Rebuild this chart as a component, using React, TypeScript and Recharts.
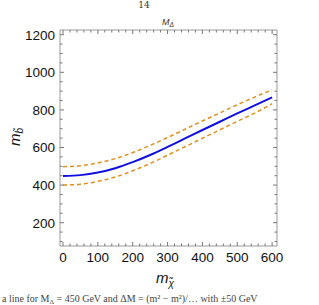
import React from "react";
import { LineChart, Line, XAxis, YAxis } from "recharts";

const mChi = [0, 50, 100, 150, 200, 250, 300, 350, 400, 450, 500, 550, 600];
const mSbCentral = [448, 453, 467, 490, 522, 560, 603, 648, 693, 737, 781, 824, 867];
const mSbUpper = [498, 503, 518, 541, 573, 611, 653, 697, 741, 784, 827, 868, 907];
const mSbLower = [400, 405, 420, 443, 476, 515, 559, 604, 649, 694, 739, 783, 833];

const xTicks = [0, 20, 40, 60, 80, 100, 120, 140, 160, 180, 200, 220, 240, 260, 280, 300, 320, 340, 360, 380, 400, 420, 440, 460, 480, 500, 520, 540, 560, 580, 600];
const xMajor = [0, 100, 200, 300, 400, 500, 600];
const yTicks = [100, 150, 200, 250, 300, 350, 400, 450, 500, 550, 600, 650, 700, 750, 800, 850, 900, 950, 1000, 1050, 1100, 1150, 1200];
const yMajor = [200, 400, 600, 800, 1000, 1200];

const data = mChi.map((x, i) => ({ x, c: mSbCentral[i], u: mSbUpper[i], l: mSbLower[i] }));

const FRAME = "#9a9a9a";
const FONT = "'Liberation Sans', Arial, sans-serif";

const BottomTick = (p: any) => {
  const v = p.payload.value;
  const major = xMajor.includes(v);
  return (
    <g>
      <line x1={p.x} x2={p.x} y1={p.y} y2={p.y - (major ? 4 : 2.5)} stroke="#777" strokeWidth={1} />
      {major && (
        <text x={p.x} y={p.y + 16} textAnchor="middle" fontSize={13.5} fontFamily={FONT} fill="#111">
          {v}
        </text>
      )}
    </g>
  );
};
const TopTick = (p: any) => {
  const v = p.payload.value;
  const major = xMajor.includes(v);
  return <line x1={p.x} x2={p.x} y1={p.y} y2={p.y + (major ? 4 : 2.5)} stroke="#777" strokeWidth={1} />;
};
const LeftTick = (p: any) => {
  const v = p.payload.value;
  const major = yMajor.includes(v);
  return (
    <g>
      <line x1={p.x} x2={p.x + (major ? 4 : 2.5)} y1={p.y} y2={p.y} stroke="#777" strokeWidth={1} />
      {major && (
        <text x={p.x - 5} y={p.y + 5} textAnchor="end" fontSize={13.5} fontFamily={FONT} fill="#111">
          {v}
        </text>
      )}
    </g>
  );
};
const RightTick = (p: any) => {
  const v = p.payload.value;
  const major = yMajor.includes(v);
  return <line x1={p.x} x2={p.x - (major ? 4 : 2.5)} y1={p.y} y2={p.y} stroke="#777" strokeWidth={1} />;
};

export default function App() {
  return (
    <div style={{ position: "absolute", left: 0, top: 0, width: 319, height: 305, background: "#fff" }}>
      <LineChart width={319} height={305} data={data} margin={{ top: 29, right: 41, bottom: 29, left: 0 }}>
        <XAxis
          dataKey="x"
          type="number"
          domain={[-8.6, 614]}
          allowDataOverflow
          ticks={xTicks}
          interval={0}
          height={30}
          tickSize={0}
          tickMargin={0}
          tickLine={false}
          axisLine={{ stroke: FRAME }}
          tick={BottomTick}
        />
        <XAxis
          xAxisId="top"
          orientation="top"
          dataKey="x"
          type="number"
          domain={[-8.6, 614]}
          allowDataOverflow
          ticks={xTicks}
          interval={0}
          height={1}
          tickSize={0}
          tickMargin={0}
          tickLine={false}
          axisLine={{ stroke: FRAME }}
          tick={TopTick}
        />
        <YAxis
          type="number"
          domain={[76, 1225]}
          allowDataOverflow
          ticks={yTicks}
          interval={0}
          width={60}
          tickSize={0}
          tickMargin={0}
          tickLine={false}
          axisLine={{ stroke: FRAME }}
          tick={LeftTick}
        />
        <YAxis
          yAxisId="right"
          orientation="right"
          type="number"
          domain={[76, 1225]}
          allowDataOverflow
          ticks={yTicks}
          interval={0}
          width={1}
          tickSize={0}
          tickMargin={0}
          tickLine={false}
          axisLine={{ stroke: FRAME }}
          tick={RightTick}
        />
        <Line xAxisId="top" yAxisId="right" dataKey="c" stroke="none" strokeWidth={0} dot={false} activeDot={false} isAnimationActive={false} />
        <Line dataKey="u" type="monotone" stroke="#E0901E" strokeWidth={1.5} strokeDasharray="4 3" dot={false} isAnimationActive={false} />
        <Line dataKey="l" type="monotone" stroke="#E0901E" strokeWidth={1.5} strokeDasharray="4 3" dot={false} isAnimationActive={false} />
        <Line dataKey="c" type="monotone" stroke="#1010E0" strokeWidth={2} dot={false} isAnimationActive={false} />
        <text x={144} y={8} textAnchor="middle" fontSize={9} fontFamily="'DejaVu Serif', serif" fill="#333">14</text>
        <text x={168} y={25} textAnchor="middle" fontSize={9} fontFamily={FONT} fontStyle="italic" fill="#333">
          M<tspan fontSize={6.5} dy={2}>Δ</tspan>
        </text>
        <text
          x={0}
          y={0}
          transform="translate(20,137) rotate(-90)"
          textAnchor="middle"
          fontSize={15}
          fontFamily={FONT}
          fontStyle="italic"
          fill="#111"
        >
          m<tspan fontSize={10} dy={3}>{"b\u0303"}</tspan>
        </text>
        <text x={165} y={283} textAnchor="middle" fontSize={15} fontFamily={FONT} fontStyle="italic" fill="#111">
          m<tspan fontSize={10} dy={4}>{"\u03C7\u0303"}</tspan>
        </text>
        <text x={2} y={302} fontSize={10} fontFamily="'Liberation Serif', serif" fill="#444">
          a line for M<tspan fontSize={7} dy={2}>Δ</tspan><tspan dy={-2}> = 450 GeV and ΔM = (m² − m²)/… with ±50 GeV</tspan>
        </text>
      </LineChart>
    </div>
  );
}
